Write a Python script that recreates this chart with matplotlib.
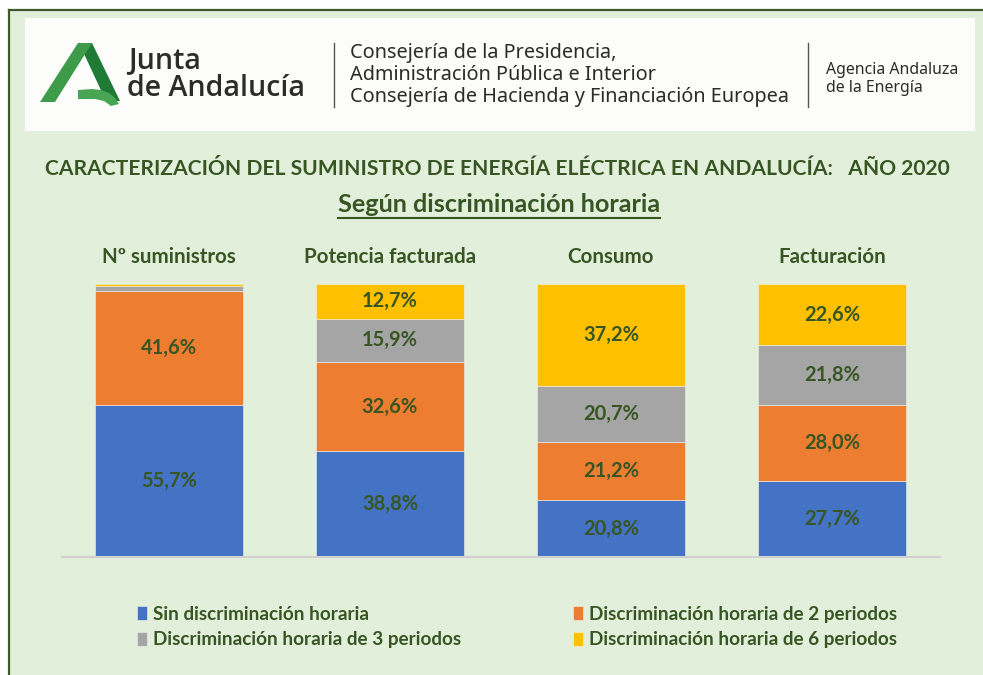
import matplotlib
matplotlib.use("Agg")
import matplotlib.pyplot as plt
import numpy as np
from matplotlib.patches import Rectangle, Polygon

# chart data (percentages)
categories = ["Nº suministros", "Potencia facturada", "Consumo", "Facturación"]
series_names = [
    "Sin discriminación horaria",
    "Discriminación horaria de 2 periodos",
    "Discriminación horaria de 3 periodos",
    "Discriminación horaria de 6 periodos",
]
sin_dh = [55.7, 38.8, 20.8, 27.7]
dh_2p = [41.6, 32.6, 21.2, 28.0]
dh_3p = [2.1, 15.9, 20.7, 21.8]
dh_6p = [0.6, 12.7, 37.2, 22.6]
show_label = [[True, True, True, True],
              [True, True, True, True],
              [False, True, True, True],
              [False, True, True, True]]

colors = ["#4472C4", "#ED7D31", "#A5A5A5", "#FFC000"]
dark_green = "#375623"
bg = "#E2EFDA"
W, H = 983, 675

fig = plt.figure(figsize=(W / 100, H / 100), dpi=100)
fig.patch.set_facecolor("white")

# overlay axes in pixel coordinates for the decoration
deco = fig.add_axes([0, 0, 1, 1])
deco.set_xlim(0, W)
deco.set_ylim(H, 0)
deco.axis("off")
deco.add_patch(Rectangle((9, 10), W, H, facecolor=bg, edgecolor="none", zorder=0))
deco.plot([9, 9], [10, H], color="#3D5A2A", lw=1.6, zorder=1)
deco.plot([9, W], [10, 10], color="#3D5A2A", lw=1.6, zorder=1)
deco.add_patch(Rectangle((25, 18), 950, 113, facecolor="#FCFCFB", edgecolor="none", zorder=1))

# logo: right leg first, left leg and swoosh on top
deco.add_patch(Polygon([(79, 43), (92, 43), (120, 101), (106, 101)], closed=True,
                       facecolor="#1F7A36", edgecolor="none", zorder=2))
deco.add_patch(Polygon([(40, 102), (55, 102), (92, 43), (78, 43)], closed=True,
                       facecolor="#3E9B4A", edgecolor="none", zorder=3))
deco.add_patch(Polygon([(78, 90), (92, 89), (101, 90), (109, 93), (115, 98), (119, 104),
                        (111, 106), (104, 101), (95, 99), (78, 99)], closed=True,
                       facecolor="#48A554", edgecolor="none", zorder=4))
deco.text(128, 61, "Junta", fontsize=20.6, family="Open Sans", fontweight="semibold",
          color="#2B2B2B", va="center", ha="left", zorder=3)
deco.text(127, 89, "de Andalucía", fontsize=20.6, family="Open Sans", fontweight="semibold",
          color="#2B2B2B", va="center", ha="left", zorder=3)
deco.plot([334, 334], [43, 107], color="#555555", lw=1, zorder=3)
for i, line in enumerate(["Consejería de la Presidencia,",
                          "Administración Pública e Interior",
                          "Consejería de Hacienda y Financiación Europea"]):
    deco.text(350, 53 + i * 22, line, fontsize=14.3, family="Noto Sans",
              color="#2B2B2B", va="center", ha="left", zorder=3)
deco.plot([808, 808], [43, 107], color="#555555", lw=1, zorder=3)
deco.text(826, 70, "Agencia Andaluza", fontsize=11.4, family="Noto Sans",
          color="#2B2B2B", va="center", ha="left", zorder=3)
deco.text(826, 88, "de la Energía", fontsize=11.4, family="Noto Sans",
          color="#2B2B2B", va="center", ha="left", zorder=3)

# titles
deco.text(497, 169, "CARACTERIZACIÓN DEL SUMINISTRO DE ENERGÍA ELÉCTRICA EN ANDALUCÍA:   AÑO 2020",
          fontsize=15.1, family="Lato", fontweight="bold", color=dark_green,
          ha="center", va="center", zorder=3)
sub = deco.text(499, 205, "Según discriminación horaria", fontsize=18.2, family="Lato",
                fontweight="bold", color=dark_green, ha="center", va="center", zorder=3)
fig.canvas.draw()
bb = sub.get_window_extent(fig.canvas.get_renderer())
deco.plot([bb.x0, bb.x1], [H - bb.y0 + 1, H - bb.y0 + 1], color=dark_green, lw=1.5, zorder=3)

# chart
ax = fig.add_axes([62 / W, 1 - 557 / H, 878 / W, 273 / H])
ax.set_facecolor("none")
x = np.arange(len(categories))
bottom = np.zeros(len(categories))
all_series = [sin_dh, dh_2p, dh_3p, dh_6p]
for k, vals in enumerate(all_series):
    vals = np.array(vals)
    ax.bar(x, vals, 0.67, bottom=bottom, color=colors[k], edgecolor="#F2F2F2",
           linewidth=0.4, label=series_names[k], zorder=2)
    for i, v in enumerate(vals):
        if show_label[k][i]:
            ax.text(x[i], bottom[i] + v / 2, f"{v:.1f}%".replace(".", ","),
                    ha="center", va="center", fontsize=14.5, family="Lato",
                    fontweight="bold", color=dark_green, zorder=3)
    bottom += vals

ax.set_xlim(-0.484, 3.489)
ax.set_ylim(0, 100)
for s in ["top", "right", "left"]:
    ax.spines[s].set_visible(False)
ax.spines["bottom"].set_color("#D0D0D0")
ax.spines["bottom"].set_linewidth(1.5)
ax.set_yticks([])
ax.set_xticks([])
for i, c in enumerate(categories):
    ax.text(x[i], 110, c, ha="center", va="center", fontsize=14.8, family="Lato",
            fontweight="bold", color=dark_green)

# legend
handles, labels = ax.get_legend_handles_labels()
leg = fig.legend([handles[0], handles[2], handles[1], handles[3]],
                 [labels[0], labels[2], labels[1], labels[3]],
                 ncol=2, loc="upper left", bbox_to_anchor=(137 / W, 1 - 606 / H),
                 frameon=False, borderpad=0, borderaxespad=0,
                 handlelength=0.53, handleheight=0.75,
                 handletextpad=0.32, columnspacing=5.9, labelspacing=0.45,
                 prop={"family": "Lato", "weight": "bold", "size": 13.6})
for t in leg.get_texts():
    t.set_color(dark_green)

fig.savefig("out.png", dpi=100, facecolor=fig.get_facecolor())
